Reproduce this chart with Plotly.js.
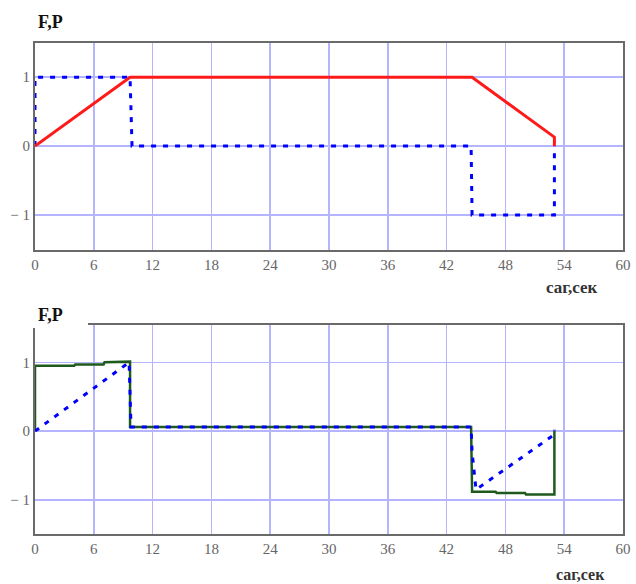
<!DOCTYPE html>
<html><head><meta charset="utf-8">
<script src="https://cdn.plot.ly/plotly-3.0.1.min.js"></script>
<style>html,body{margin:0;padding:0;background:#fff}#chart{width:636px;height:584px}</style>
</head><body><div id="chart"></div>
<script>
// Top chart
const topF_x = [0, 9.7, 44.6, 53, 53];
const topF_y = [0, 1, 1, 0.13, 0];
const topP_x = [0, 0, 9.7, 9.9, 44.5, 44.6, 53, 53];
const topP_y = [0, 1, 1, 0, 0, -1, -1, 0];
// Bottom chart
const botF_x = [0, 0, 4, 4.1, 7, 7.1, 9.7, 9.7, 44.5, 44.6, 47, 47.1, 50, 50.1, 53, 53];
const botF_y = [0, 0.95, 0.95, 0.97, 0.97, 1.0, 1.01, 0.06, 0.06, -0.88, -0.88, -0.9, -0.9, -0.92, -0.92, 0];
const botP_x = [0, 9.6, 9.8, 44.5, 44.6, 45.0, 53, 53];
const botP_y = [0, 1, 0.06, 0.06, -0.3, -0.85, -0.05, 0.02];

const xTicks = [0, 6, 12, 18, 24, 30, 36, 42, 48, 54, 60];
const yTicks = [-1, 0, 1];
const yTickText = ['\u2212 1', '0', '1'];
const titleText = 'F,P';
const xLabelText = 'саг,сек';

const W = 636, H = 584;
const xdom = [35 / W, 623 / W];
const tickFont = {family: 'Liberation Serif', size: 15, color: '#666'};

function xa(anchor) {
  return {domain: xdom, range: [0, 60], tickvals: xTicks, ticktext: xTicks.map(String),
    showgrid: true, gridcolor: '#b4b4ff', gridwidth: 1.5, zeroline: false,
    showline: true, linecolor: '#6a6a6a', linewidth: 2, mirror: true,
    ticks: '', tickfont: tickFont, anchor: anchor, fixedrange: true};
}
function ya(anchor, dom, rng) {
  return {domain: dom, range: rng, tickvals: yTicks, ticktext: yTickText,
    showgrid: true, gridcolor: '#b4b4ff', gridwidth: 1.5, zeroline: false,
    showline: true, linecolor: '#6a6a6a', linewidth: 2, mirror: true,
    ticks: '', tickfont: tickFont, anchor: anchor, fixedrange: true};
}

const traces = [
  {x: topP_x, y: topP_y, xaxis: 'x', yaxis: 'y', mode: 'lines',
   line: {color: '#0000ff', width: 3, dash: '5px,7px'}},
  {x: topF_x, y: topF_y, xaxis: 'x', yaxis: 'y', mode: 'lines',
   line: {color: '#ff1a1a', width: 3}},
  {x: botF_x, y: botF_y, xaxis: 'x2', yaxis: 'y2', mode: 'lines',
   line: {color: '#1e5a1e', width: 2.5}},
  {x: botP_x, y: botP_y, xaxis: 'x2', yaxis: 'y2', mode: 'lines',
   line: {color: '#0000ff', width: 3, dash: '5px,7px'}}
];

const layout = {
  width: W, height: H, showlegend: false,
  margin: {l: 0, r: 0, t: 0, b: 0},
  paper_bgcolor: '#fff', plot_bgcolor: '#fff',
  xaxis: xa('y'),
  yaxis: ya('x', [1 - 249.5 / H, 1 - 42.7 / H], [-1.5, 1.5]),
  xaxis2: xa('y2'),
  yaxis2: ya('x2', [1 - 534.3 / H, 1 - 324.5 / H], [-1.5, 1.55]),
  shapes: [
    {type: 'rect', xref: 'paper', yref: 'paper', x0: 0, x1: 88 / W,
     y0: 1 - 328 / H, y1: 1 - 300 / H, fillcolor: '#fff', line: {width: 0}, layer: 'above'}
  ],
  annotations: [
    {text: titleText, xref: 'paper', yref: 'paper', x: 36 / W, y: 1 - 22 / H,
     xanchor: 'left', yanchor: 'middle', showarrow: false,
     font: {family: 'Liberation Serif', size: 18, color: '#111', weight: 'bold'}},
    {text: titleText, xref: 'paper', yref: 'paper', x: 36 / W, y: 1 - 315 / H,
     xanchor: 'left', yanchor: 'middle', showarrow: false,
     font: {family: 'Liberation Serif', size: 18, color: '#111', weight: 'bold'}},
    {text: xLabelText, xref: 'paper', yref: 'paper', x: 572 / W, y: 1 - 287 / H,
     xanchor: 'center', yanchor: 'middle', showarrow: false,
     font: {family: 'Liberation Serif', size: 17, color: '#333', weight: 'bold'}},
    {text: xLabelText, xref: 'paper', yref: 'paper', x: 580 / W, y: 1 - 574 / H,
     xanchor: 'center', yanchor: 'middle', showarrow: false,
     font: {family: 'Liberation Serif', size: 16, color: '#333', weight: 'bold'}}
  ]
};

Plotly.newPlot('chart', traces, layout, {displayModeBar: false, staticPlot: true});
</script>
</body></html>
